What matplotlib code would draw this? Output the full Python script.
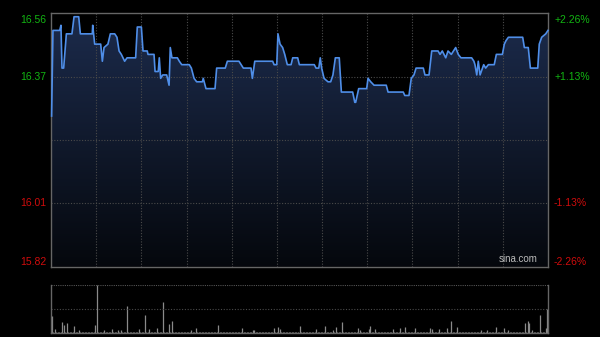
import numpy as np
import matplotlib.pyplot as plt
from matplotlib.patches import Polygon

# minutes since open (HK session, 330 min) and traced prices
t = [0.4, 1.3, 5.8, 6.6, 7.3, 8.4, 10.2, 13.9, 15.3, 18.4, 19.5, 27.4, 27.7, 29.0, 33.0,
     34.1, 35.2, 37.8, 39.4, 42.3, 43.8, 45.2, 46.7, 48.9, 50.5, 56.2, 57.3, 60.0, 61.1,
     63.9, 64.4, 68.4, 69.1, 71.2, 71.9, 72.8, 74.2, 76.8, 78.4, 79.2, 80.3, 83.9, 85.2,
     86.8, 91.8, 93.2, 95.0, 96.7, 100.5, 101.1, 102.9, 108.9, 110.0, 115.7, 117.1,
     124.8, 127.7, 132.8, 133.7, 135.3, 147.2, 148.1, 149.9, 150.7, 152.1, 153.8, 155.2,
     156.9, 159.4, 160.5, 163.8, 164.9, 174.8, 176.0, 177.8, 178.8, 179.7, 181.3, 183.9,
     185.7, 187.2, 188.8, 191.4, 192.8, 200.3, 201.7, 202.3, 204.3, 209.6, 210.5, 212.3,
     214.5, 222.6, 223.8, 233.9, 234.9, 237.7, 239.2, 241.0, 242.4, 247.2, 248.3, 251.0,
     252.8, 257.0, 258.3, 259.8, 262.1, 263.6, 265.8, 268.7, 270.4, 272.2, 279.3, 280.8,
     281.5, 282.7, 283.7, 284.9, 287.3, 288.6, 290.4, 294.3, 295.7, 299.7, 301.0, 302.1,
     303.7, 313.2, 314.3, 316.9, 318.3, 323.2, 324.2, 325.8, 328.5, 330]
price = [16.26, 16.51, 16.51, 16.525, 16.40, 16.40, 16.50, 16.50, 16.55, 16.55, 16.50, 16.50,
         16.525, 16.47, 16.47, 16.42, 16.46, 16.47, 16.50, 16.50, 16.49, 16.45, 16.44, 16.42,
         16.43, 16.43, 16.52, 16.52, 16.45, 16.45, 16.44, 16.44, 16.39, 16.39, 16.43, 16.37,
         16.38, 16.38, 16.35, 16.46, 16.43, 16.43, 16.42, 16.41, 16.41, 16.40, 16.37, 16.36,
         16.36, 16.37, 16.34, 16.34, 16.40, 16.40, 16.42, 16.42, 16.40, 16.40, 16.37, 16.42,
         16.42, 16.41, 16.41, 16.50, 16.47, 16.46, 16.44, 16.41, 16.41, 16.43, 16.43, 16.41,
         16.41, 16.40, 16.40, 16.43, 16.40, 16.37, 16.36, 16.36, 16.38, 16.43, 16.43, 16.33,
         16.33, 16.30, 16.30, 16.34, 16.34, 16.37, 16.36, 16.35, 16.35, 16.33, 16.33, 16.32,
         16.32, 16.37, 16.38, 16.40, 16.40, 16.38, 16.38, 16.45, 16.45, 16.44, 16.45, 16.43,
         16.45, 16.44, 16.46, 16.44, 16.43, 16.43, 16.42, 16.41, 16.38, 16.42, 16.38, 16.41,
         16.40, 16.41, 16.41, 16.44, 16.44, 16.47, 16.48, 16.49, 16.49, 16.46, 16.46, 16.40,
         16.40, 16.47, 16.49, 16.50, 16.51]

# volume spikes (minute, relative volume); the rest of the minutes are tiny
vol_min = [0, 2, 7, 8, 10, 15, 18, 29, 30, 35, 40, 44, 46, 50, 58, 62, 65, 70, 74, 78, 80,
           93, 96, 111, 127, 134, 135, 148, 151, 152, 165, 176, 182, 187, 189, 193, 204, 205,
           211, 212, 215, 227, 232, 235, 242, 252, 253, 258, 263, 266, 270, 286, 290, 296,
           301, 304, 315, 317, 318, 320, 325, 329, 330]
vol_val = [16.5, 4, 11, 7.5, 10, 6.5, 3, 7.5, 47.5, 2.5, 4, 2.5, 3, 26.5, 4, 17.5, 4, 5, 31,
           9, 12, 3, 5, 7.5, 5, 3, 3, 5, 6, 4, 6.8, 4, 7, 3, 6, 11, 5, 2.5, 4, 7, 4, 4, 5, 6,
           5, 5, 4, 3.5, 5, 12, 6, 2.5, 2.5, 6, 5, 2.5, 10, 12, 10, 2.5, 17.5, 5, 24]
base_vol = 1.0

ylo, yhi = 15.82, 16.56
left_lbl = ['16.56', '16.37', '16.01', '15.82']
right_lbl = ['+2.26%', '+1.13%', '-1.13%', '-2.26%']

fig = plt.figure(figsize=(6, 3.37), dpi=100, facecolor='black')
ax = fig.add_axes([51/600, 70.3/337, 497/600, 253.4/337])
ax.set_facecolor('black')
ax.set_xlim(0, 330)
ax.set_ylim(ylo, yhi)

# gradient fill under the line
grad = np.linspace(0, 1, 256).reshape(-1, 1)
top_c = np.array([0.11, 0.17, 0.30])
bot_c = np.array([0.02, 0.03, 0.05])
img = top_c * (1 - grad[..., None]) + bot_c * grad[..., None]
im = ax.imshow(img, extent=[0, 330, ylo, yhi], aspect='auto', origin='upper', zorder=1)
poly = Polygon(list(zip(t, price)) + [(330, ylo), (t[0], ylo)], closed=True,
               facecolor='none', edgecolor='none')
ax.add_patch(poly)
im.set_clip_path(poly)

grid_c = '#4a4a4a'
for m in range(30, 330, 30):
    ax.axvline(m, color=grid_c, lw=0.8, ls=(0, (1, 1.5)), zorder=2)
q = (yhi - ylo) / 4
for k in (1, 2, 3):
    ax.axhline(ylo + k * q, color=grid_c, lw=0.8, ls=(0, (1, 1.5)), zorder=2)

ax.plot(t, price, color='#4f8ee8', lw=1.2, zorder=4, clip_on=False)

for s in ax.spines.values():
    s.set_color('#666666')
    s.set_linewidth(1)
ax.set_xticks([])
ax.set_yticks([])

lbl_y = [yhi - 0.02, ylo + 3 * q, ylo + q, ylo + 0.015]
cols = ['#12b512', '#12b512', '#d00c0c', '#d00c0c']
for yv, l, r, c in zip(lbl_y, left_lbl, right_lbl, cols):
    ax.text(-3, yv, l, color=c, fontsize=7.5, ha='right', va='center',
            family='Liberation Sans', clip_on=False)
    ax.text(334, yv, r, color=c, fontsize=7.5, ha='left', va='center',
            family='Liberation Sans', clip_on=False)
ax.text(0.98, 0.012, 'sina.com', color='#bbbbbb', fontsize=7, ha='right', va='bottom',
        family='Liberation Sans', transform=ax.transAxes, zorder=5)

# volume panel
vax = fig.add_axes([51/600, 4.5/337, 497/600, 47.5/337])
vax.set_facecolor('black')
vax.set_xlim(-0.5, 330.5)
vax.set_ylim(0, 47.5)
vols = np.full(331, base_vol)
vols[vol_min] = vol_val
vax.vlines(np.arange(331), 0, vols, color='#8a8a8a', lw=0.9)
vax.axhline(47.5 / 2, color=grid_c, lw=0.8, ls=(0, (1, 1.5)))
vax.axhline(47.2, color='#555555', lw=0.8, ls=(0, (1, 1)))
for s in vax.spines.values():
    s.set_color('#666666')
    s.set_linewidth(1)
vax.spines['top'].set_visible(False)
vax.set_xticks([])
vax.set_yticks([])

fig.savefig('out.png', dpi=100, facecolor='black')
